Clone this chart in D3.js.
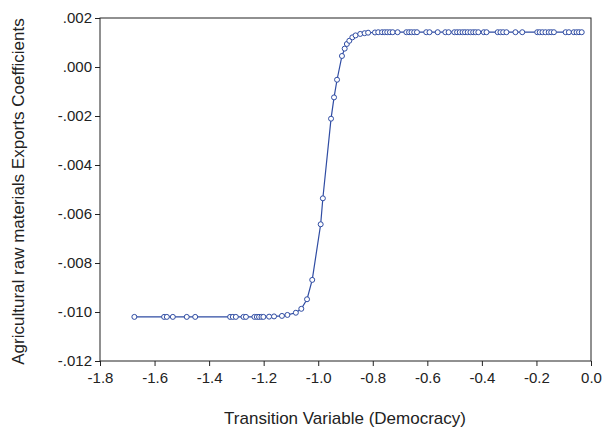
<!DOCTYPE html>
<html>
<head>
<meta charset="utf-8">
<script src="https://cdn.jsdelivr.net/npm/d3@7"></script>
<style>
  body { margin: 0; background: #fff; }
  text { font-family: "Liberation Sans", Arial, sans-serif; fill: #222; }
</style>
</head>
<body>
<div id="chart"></div>
<script>
// transition variable (democracy) values
var xVals = [
  -1.674, -1.565, -1.555, -1.533, -1.482, -1.451, -1.323, -1.313, -1.302, -1.274,
  -1.265, -1.234, -1.225, -1.217, -1.208, -1.201, -1.180, -1.162, -1.133, -1.113,
  -1.082, -1.062, -1.041, -1.022, -0.991, -0.983, -0.953, -0.942, -0.931, -0.913,
  -0.903, -0.895, -0.886, -0.875, -0.863, -0.846, -0.830, -0.817, -0.792, -0.780,
  -0.766, -0.756, -0.747, -0.737, -0.727, -0.709, -0.677, -0.667, -0.658, -0.648,
  -0.638, -0.604, -0.592, -0.562, -0.534, -0.522, -0.501, -0.491, -0.481, -0.471,
  -0.462, -0.452, -0.442, -0.432, -0.423, -0.413, -0.393, -0.383, -0.342, -0.332,
  -0.322, -0.310, -0.277, -0.252, -0.197, -0.188, -0.178, -0.167, -0.155, -0.146,
  -0.136, -0.093, -0.081, -0.063, -0.053, -0.044, -0.034
];
// coefficients
var yVals = [
  -0.01020, -0.01020, -0.01020, -0.01020, -0.01020, -0.01020, -0.01020, -0.01020, -0.01020, -0.01020,
  -0.01020, -0.01020, -0.01020, -0.01020, -0.01020, -0.01020, -0.01019, -0.01018, -0.01016, -0.01012,
  -0.01003, -0.00987, -0.00948, -0.00869, -0.00642, -0.00536, -0.00211, -0.00124, -0.00052, 0.00045,
  0.00075, 0.00094, 0.00107, 0.00121, 0.00129, 0.00135, 0.00138, 0.00140, 0.00141, 0.00142,
  0.00142, 0.00142, 0.00142, 0.00142, 0.00142, 0.00142, 0.00142, 0.00142, 0.00142, 0.00142,
  0.00142, 0.00142, 0.00142, 0.00142, 0.00142, 0.00142, 0.00142, 0.00142, 0.00142, 0.00142,
  0.00142, 0.00142, 0.00142, 0.00142, 0.00142, 0.00142, 0.00142, 0.00142, 0.00142, 0.00142,
  0.00142, 0.00142, 0.00142, 0.00142, 0.00142, 0.00142, 0.00142, 0.00142, 0.00142, 0.00142,
  0.00142, 0.00142, 0.00142, 0.00142, 0.00142, 0.00142, 0.00142
];
var xTicks = [-1.8, -1.6, -1.4, -1.2, -1.0, -0.8, -0.6, -0.4, -0.2, 0.0];
var yTicks = [0.002, 0.000, -0.002, -0.004, -0.006, -0.008, -0.010, -0.012];

var svgWidth = 603, svgHeight = 430;
var margin = { top: 18, right: 12, bottom: 69, left: 100 };
var width = svgWidth - margin.left - margin.right;
var height = svgHeight - margin.top - margin.bottom;
var lineColor = "#2f4ca3";

var svg = d3.select("#chart").append("svg")
  .attr("width", svgWidth)
  .attr("height", svgHeight);

var chartGroup = svg.append("g")
  .attr("transform", `translate(${margin.left}, ${margin.top})`);

var xScale = d3.scaleLinear().domain([-1.8, 0.0]).range([0, width]);
var yScale = d3.scaleLinear().domain([-0.012, 0.002]).range([height, 0]);

var data = xVals.map((x, i) => ({ x: x, y: yVals[i] }));

// frame
chartGroup.append("rect")
  .attr("x", 0).attr("y", 0)
  .attr("width", width).attr("height", height)
  .attr("fill", "none")
  .attr("stroke", "#222")
  .attr("stroke-width", 1);

var bottomAxis = d3.axisBottom(xScale)
  .tickValues(xTicks)
  .tickSize(5)
  .tickSizeOuter(0)
  .tickFormat(d3.format(".1f"));

var leftAxis = d3.axisLeft(yScale)
  .tickValues(yTicks)
  .tickSize(5)
  .tickSizeOuter(0)
  .tickFormat(d => d3.format(".3f")(d).replace("0.", ".").replace("−", "-"));

var xAxis = chartGroup.append("g")
  .attr("transform", `translate(0, ${height})`)
  .call(bottomAxis);
xAxis.select(".domain").remove();
xAxis.selectAll("line").attr("stroke", "#222");
xAxis.selectAll("text")
  .attr("font-size", "15px")
  .attr("dy", "0.95em")
  .text(d => d3.format(".1f")(d).replace("−", "-"));

var yAxis = chartGroup.append("g").call(leftAxis);
yAxis.select(".domain").remove();
yAxis.selectAll("line").attr("stroke", "#222");
yAxis.selectAll("text")
  .attr("font-size", "15px")
  .attr("x", -8);

svg.selectAll(".tick text")
  .attr("font-family", "'Liberation Sans', Arial, sans-serif")
  .attr("fill", "#222");

var line = d3.line()
  .x(d => xScale(d.x))
  .y(d => yScale(d.y));

chartGroup.append("path")
  .datum(data)
  .attr("d", line)
  .attr("fill", "none")
  .attr("stroke", lineColor)
  .attr("stroke-width", 1.2);

chartGroup.selectAll("circle")
  .data(data)
  .enter()
  .append("circle")
  .attr("cx", d => xScale(d.x))
  .attr("cy", d => yScale(d.y))
  .attr("r", 2.5)
  .attr("fill", "#fff")
  .attr("stroke", lineColor)
  .attr("stroke-width", 1);

// axis titles
svg.append("text")
  .attr("x", 345)
  .attr("y", 424)
  .attr("text-anchor", "middle")
  .attr("font-size", "17px")
  .text("Transition Variable (Democracy)");

svg.append("text")
  .attr("transform", `translate(24, ${margin.top + height / 2 + 2}) rotate(-90)`)
  .attr("text-anchor", "middle")
  .attr("font-size", "17px")
  .text("Agricultural raw materials Exports Coefficients");
</script>
</body>
</html>
